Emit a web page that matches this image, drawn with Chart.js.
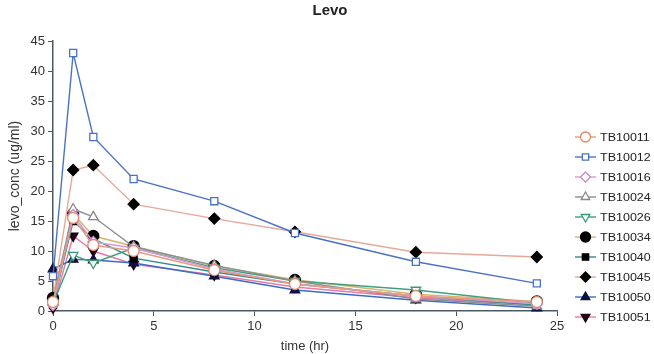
<!DOCTYPE html>
<html><head><meta charset="utf-8">
<script src="https://cdn.jsdelivr.net/npm/chart.js@4"></script>
<style>html,body{margin:0;padding:0;background:#fff}#wrap{width:654px;height:354px}</style>
</head><body><div id="wrap"><canvas id="c" width="654" height="354"></canvas></div>
<script>
const times = [0, 1, 2, 4, 8, 12, 18, 24];
const names = ["TB10011","TB10012","TB10016","TB10024","TB10026","TB10034","TB10040","TB10045","TB10050","TB10051"];
const tb10011 = [1.5, 15.5, 11.0, 10.0, 6.8, 4.5, 2.5, 1.5];
const tb10012 = [5.8, 43.0, 29.0, 22.0, 18.3, 13.0, 8.2, 4.6];
const tb10016 = [1.0, 16.0, 11.5, 10.5, 7.0, 4.5, 2.5, 1.2];
const tb10024 = [1.5, 17.0, 15.7, 10.7, 7.6, 5.0, 2.0, 0.8];
const tb10026 = [1.2, 9.3, 8.0, 10.5, 7.2, 5.0, 3.5, 1.3];
const tb10034 = [2.2, 16.2, 12.5, 10.8, 7.5, 5.2, 2.8, 1.6];
const tb10040 = [1.0, 15.0, 12.0, 8.8, 6.5, 4.5, 2.5, 1.0];
const tb10045 = [2.0, 23.5, 24.3, 17.8, 15.4, 13.2, 9.8, 9.0];
const tb10050 = [7.0, 8.6, 8.5, 8.0, 5.8, 3.5, 1.8, 0.5];
const tb10051 = [0.5, 12.5, 10.0, 7.8, 6.0, 4.0, 2.2, 1.0];
const xTicks = [0, 5, 10, 15, 20, 25];
const yTicks = [0, 5, 10, 15, 20, 25, 30, 35, 40, 45];

const series = [tb10011,tb10012,tb10016,tb10024,tb10026,tb10034,tb10040,tb10045,tb10050,tb10051];
const styles = [
  {line:'#e89a80', fill:'#ffffff', stroke:'#e0876a', shape:'circle', rot:0},
  {line:'#4a72c4', fill:'#ffffff', stroke:'#4a72c4', shape:'rect', rot:0},
  {line:'#d79ad8', fill:'#ffffff', stroke:'#cc88d0', shape:'rectRot', rot:0},
  {line:'#8a8f92', fill:'#ffffff', stroke:'#888888', shape:'triangle', rot:0},
  {line:'#3fa07e', fill:'#ffffff', stroke:'#3a9a78', shape:'triangle', rot:180},
  {line:'#d8b470', fill:'#000000', stroke:'#000000', shape:'circle', rot:0},
  {line:'#2e8c8c', fill:'#000000', stroke:'#000000', shape:'rect', rot:0},
  {line:'#e8a898', fill:'#000000', stroke:'#000000', shape:'rectRot', rot:0},
  {line:'#3a6cc8', fill:'#101040', stroke:'#101040', shape:'triangle', rot:0},
  {line:'#e879a8', fill:'#200010', stroke:'#200010', shape:'triangle', rot:180}
];
const FONT = '"Liberation Sans", Arial, sans-serif';

const datasets = series.map((vals, i) => ({
  label: names[i],
  data: times.map((t, k) => ({x: t, y: vals[k]})),
  borderColor: styles[i].line,
  borderWidth: 1.4,
  pointStyle: styles[i].shape,
  pointRotation: styles[i].rot,
  pointRadius: styles[i].shape === 'rect' ? 5 : 5.5,
  pointBackgroundColor: styles[i].fill,
  pointBorderColor: styles[i].stroke,
  pointBorderWidth: 1.3,
  tension: 0,
  clip: false
}));

const extras = {
  id: 'extras',
  afterDraw(chart) {
    const ctx = chart.ctx;
    ctx.save();
    ctx.fillStyle = '#222';
    ctx.font = 'bold 15px ' + FONT;
    ctx.textAlign = 'center';
    ctx.textBaseline = 'middle';
    ctx.fillText('Levo', 330, 11);
    ctx.textAlign = 'left';
    names.forEach((n, i) => {
      const y = 137 + i * 20;
      const s = styles[i];
      ctx.strokeStyle = s.line;
      ctx.lineWidth = 1.4;
      ctx.beginPath(); ctx.moveTo(575, y); ctx.lineTo(596, y); ctx.stroke();
      ctx.fillStyle = s.fill; ctx.strokeStyle = s.stroke; ctx.lineWidth = 1.3;
      Chart.helpers.drawPoint(ctx, {pointStyle: s.shape, rotation: s.rot, radius: s.shape==='rect'?4.5:5, borderWidth: 1.3}, 585.5, y);
      ctx.save();
      ctx.translate(600, y + 1);
      ctx.scale(1.25, 1);
      ctx.fillStyle = '#222';
      ctx.font = '10px ' + FONT;
      ctx.fillText(n, 0, 0);
      ctx.restore();
    });
    ctx.restore();
  }
};

new Chart(document.getElementById('c'), {
  type: 'line',
  data: { datasets },
  plugins: [extras],
  options: {
    responsive: false,
    animation: false,
    layout: { padding: { top: 41, right: 97, bottom: 0, left: 0 } },
    plugins: { legend: { display: false }, title: { display: false }, tooltip: { enabled: false } },
    scales: {
      x: {
        type: 'linear', min: 0, max: 25,
        afterFit(s) { s.height = 43; },
        afterBuildTicks(s) { s.ticks = xTicks.map(v => ({value: v})); },
        ticks: { color: '#333', font: { size: 13, family: FONT }, padding: 3 },
        grid: { display: true, drawOnChartArea: false, drawTicks: true, tickLength: 5, color: '#4a5a60' },
        border: { display: true, color: '#4a5a60', width: 1.5 },
        title: { display: true, text: 'time (hr)', color: '#333', font: { size: 13, family: FONT }, padding: { top: 0, bottom: 0 } }
      },
      y: {
        type: 'linear', min: 0, max: 45,
        afterFit(s) { s.width = 53; },
        afterBuildTicks(s) { s.ticks = yTicks.map(v => ({value: v})); },
        ticks: { color: '#333', font: { size: 13, family: FONT }, padding: 3 },
        grid: { display: true, drawOnChartArea: false, drawTicks: true, tickLength: 5, color: '#4a5a60' },
        border: { display: true, color: '#4a5a60', width: 1.5 },
        title: { display: true, text: 'levo_conc (ug/ml)', color: '#333', font: { size: 14, family: FONT }, padding: { top: 7, bottom: 0 } }
      }
    }
  }
});
</script>
</body></html>
